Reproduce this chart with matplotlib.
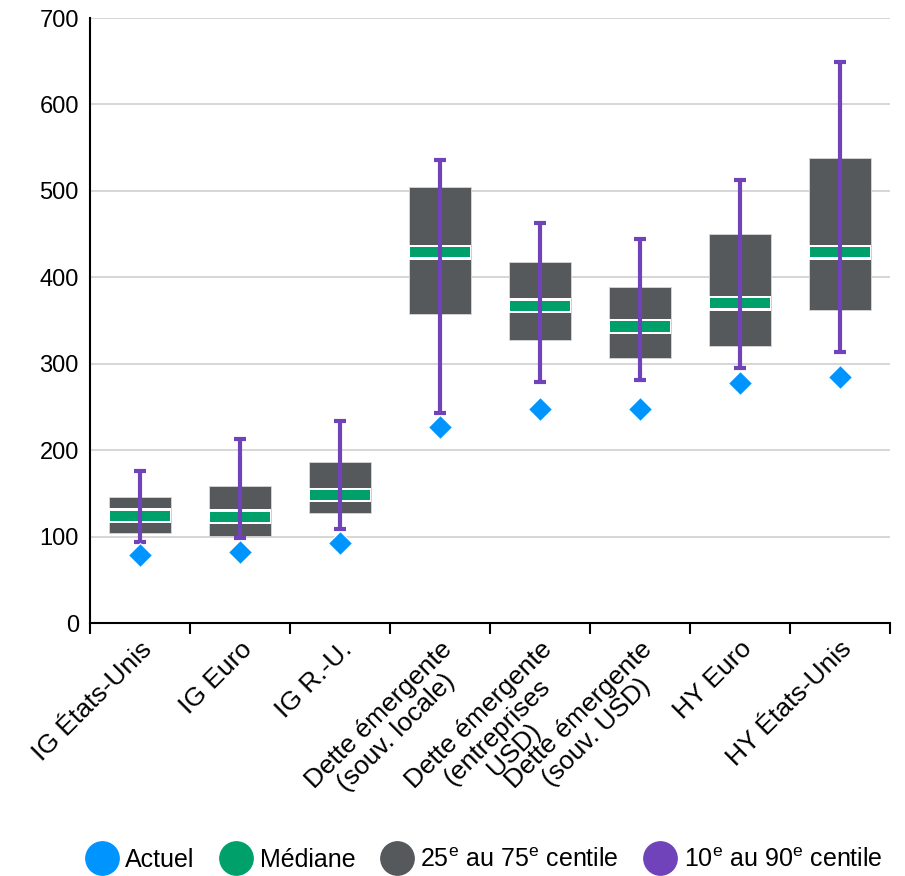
import numpy as np
import matplotlib.pyplot as plt
from matplotlib.lines import Line2D

plt.rcParams['font.family'] = ['Liberation Sans', 'DejaVu Sans']
plt.rcParams['mathtext.fontset'] = 'custom'
plt.rcParams['mathtext.rm'] = 'Liberation Sans'

categories = ['IG États-Unis', 'IG Euro', 'IG R.-U.',
              'Dette émergente\n(souv. locale)', 'Dette émergente\n(entreprises\nUSD)',
              'Dette émergente\n(souv. USD)', 'HY Euro', 'HY États-Unis']
p10 = [94, 98, 109, 243, 279, 281, 295, 314]
p25 = [104, 101, 127, 358, 328, 307, 320, 362]
median = [124, 123, 148, 429, 367, 343, 370, 429]
p75 = [146, 159, 186, 505, 418, 389, 450, 538]
p90 = [176, 213, 234, 536, 463, 444, 513, 649]
actuel = [79, 82, 93, 227, 248, 248, 278, 285]

c_box = '#55595C'
c_med = '#00A06A'
c_whisk = '#7043BA'
c_act = '#0094FF'

fig = plt.figure(figsize=(9.05, 8.76), dpi=100)
ax = fig.add_axes([90/905, 1-623/876, 800/905, 605/876])

x = np.arange(len(categories))
q25 = np.array(p25)
q75 = np.array(p75)
med = np.array(median)

# boîtes 25e-75e
ax.bar(x, q75-q25, bottom=q25, width=0.62, color=c_box, edgecolor='#d8d8d8', linewidth=0.6, zorder=2)
# médiane (liseré blanc puis bande verte)
ax.bar(x, 17, bottom=med-8.5, width=0.62, color='white', linewidth=0, zorder=3)
ax.bar(x, 12, bottom=med-6, width=0.6, color=c_med, linewidth=0, zorder=3)
# 10e-90e
ax.errorbar(x, (np.array(p10)+np.array(p90))/2, yerr=(np.array(p90)-np.array(p10))/2,
            fmt='none', ecolor=c_whisk, elinewidth=3, capsize=4.5, capthick=3, zorder=4)
# actuel
ax.plot(x, actuel, 'D', color=c_act, markersize=12, markeredgecolor='white', markeredgewidth=0.8,
        linestyle='none', zorder=5)

ax.set_ylim(0, 700)
ax.set_xlim(-0.5, len(categories)-0.5)
ax.set_yticks(range(0, 701, 100))
ax.yaxis.grid(True, color='#d0d0d0', linewidth=1.2)
ax.set_axisbelow(True)
ax.tick_params(axis='y', length=0, labelsize=17, pad=8)
ax.set_xticks(x)
ax.set_xticklabels(categories, rotation=45, ha='right', rotation_mode='anchor',
                   fontsize=19, multialignment='center', linespacing=1.05)
ax.tick_params(axis='x', length=0, pad=10)
ax.set_xticks(np.arange(-0.5, len(categories), 1), minor=True)
ax.tick_params(axis='x', which='minor', length=8, width=1.5, color='black')
for s in ['top', 'right']:
    ax.spines[s].set_visible(False)
ax.spines['left'].set_linewidth(1.5)
ax.spines['bottom'].set_linewidth(1.5)

handles = [Line2D([], [], marker='o', linestyle='none', markersize=24, color=c)
           for c in [c_act, c_med, c_box, c_whisk]]
labels = ['Actuel', 'Médiane', '25$^{\\mathrm{e}}$ au 75$^{\\mathrm{e}}$ centile',
          '10$^{\\mathrm{e}}$ au 90$^{\\mathrm{e}}$ centile']
fig.legend(handles, labels, loc='center', bbox_to_anchor=(0.535, 1-860/876), ncol=4,
           frameon=False, fontsize=18, handletextpad=0.3, columnspacing=1.0, handlelength=1.3)

fig.savefig('out.png', dpi=100)
